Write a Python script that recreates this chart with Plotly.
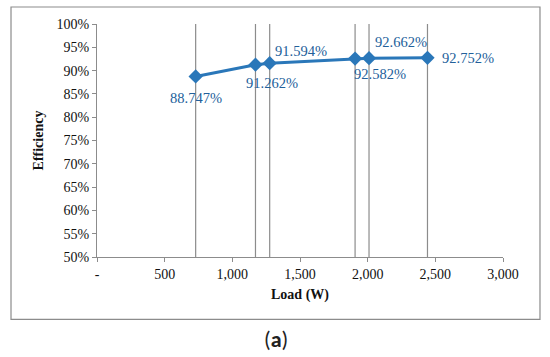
import plotly.graph_objects as go

loads = [729, 1171, 1276, 1907, 2010, 2442]
efficiency = [88.747, 91.262, 91.594, 92.582, 92.662, 92.752]
x_ticks = [0, 500, 1000, 1500, 2000, 2500, 3000]
x_tick_labels = ["-", "500", "1,000", "1,500", "2,000", "2,500", "3,000"]
label_shifts = [(0, -22), (17, -18), (31, 12), (25, -15), (32, 16), (41, 0)]

SERIF = "Liberation Serif, Times New Roman, serif"

eff_frac = [e / 100 for e in efficiency]

vx, vy = [], []
for x in loads:
    vx += [x, x, None]
    vy += [0.5, 1.0, None]

fig = go.Figure()
fig.add_trace(go.Scatter(x=vx, y=vy, mode="lines",
                         line=dict(color="#8c8c8c", width=1.2),
                         hoverinfo="skip", showlegend=False))
fig.add_trace(go.Scatter(x=loads, y=eff_frac, mode="lines+markers",
                         line=dict(color="#2a77b9", width=3),
                         marker=dict(symbol="diamond", size=11, color="#2a77b9"),
                         showlegend=False))

for x, y, e, (dx, dy) in zip(loads, eff_frac, efficiency, label_shifts):
    fig.add_annotation(x=x, y=y, text=f"{e:.3f}%", showarrow=False,
                       xshift=dx, yshift=dy,
                       font=dict(family=SERIF, size=14.5, color="#22609a"))

fig.add_annotation(xref="paper", yref="paper", x=0.44, y=-0.356,
                   xanchor="center", yanchor="middle",
                   text="(<b>a</b>)", showarrow=False,
                   font=dict(family="Carlito, Liberation Sans, sans-serif", size=22, color="#222"))

fig.add_shape(type="rect", xref="paper", yref="paper",
              x0=-0.2118, x1=1.0911, y0=-0.268, y1=1.073,
              line=dict(color="#8c8c8c", width=1.2))

fig.update_xaxes(range=[0, 3000], tickvals=x_ticks, ticktext=x_tick_labels,
                 showgrid=False, zeroline=False, showline=True,
                 linecolor="#8c8c8c", linewidth=1.2,
                 ticks="outside", ticklen=4, tickcolor="#8c8c8c",
                 tickfont=dict(family=SERIF, size=14, color="#111"),
                 title=dict(text="<b>Load (W)</b>", standoff=8,
                            font=dict(family=SERIF, size=14, color="#111")))
fig.update_yaxes(range=[0.5, 1.0], dtick=0.05, tickformat=".0%",
                 showgrid=False, zeroline=False, showline=True,
                 linecolor="#8c8c8c", linewidth=1.2,
                 ticks="outside", ticklen=4, tickcolor="#8c8c8c",
                 tickfont=dict(family=SERIF, size=14, color="#111"),
                 title=dict(text="<b>Efficiency</b>", standoff=9,
                            font=dict(family=SERIF, size=14, color="#111")))

fig.update_layout(width=550, height=357,
                  margin=dict(l=97, r=47, t=24, b=100),
                  paper_bgcolor="white", plot_bgcolor="white")

fig.write_html("out.html", config={"displayModeBar": False},
               post_script="document.body.style.margin='0px';document.body.style.padding='0px';")
